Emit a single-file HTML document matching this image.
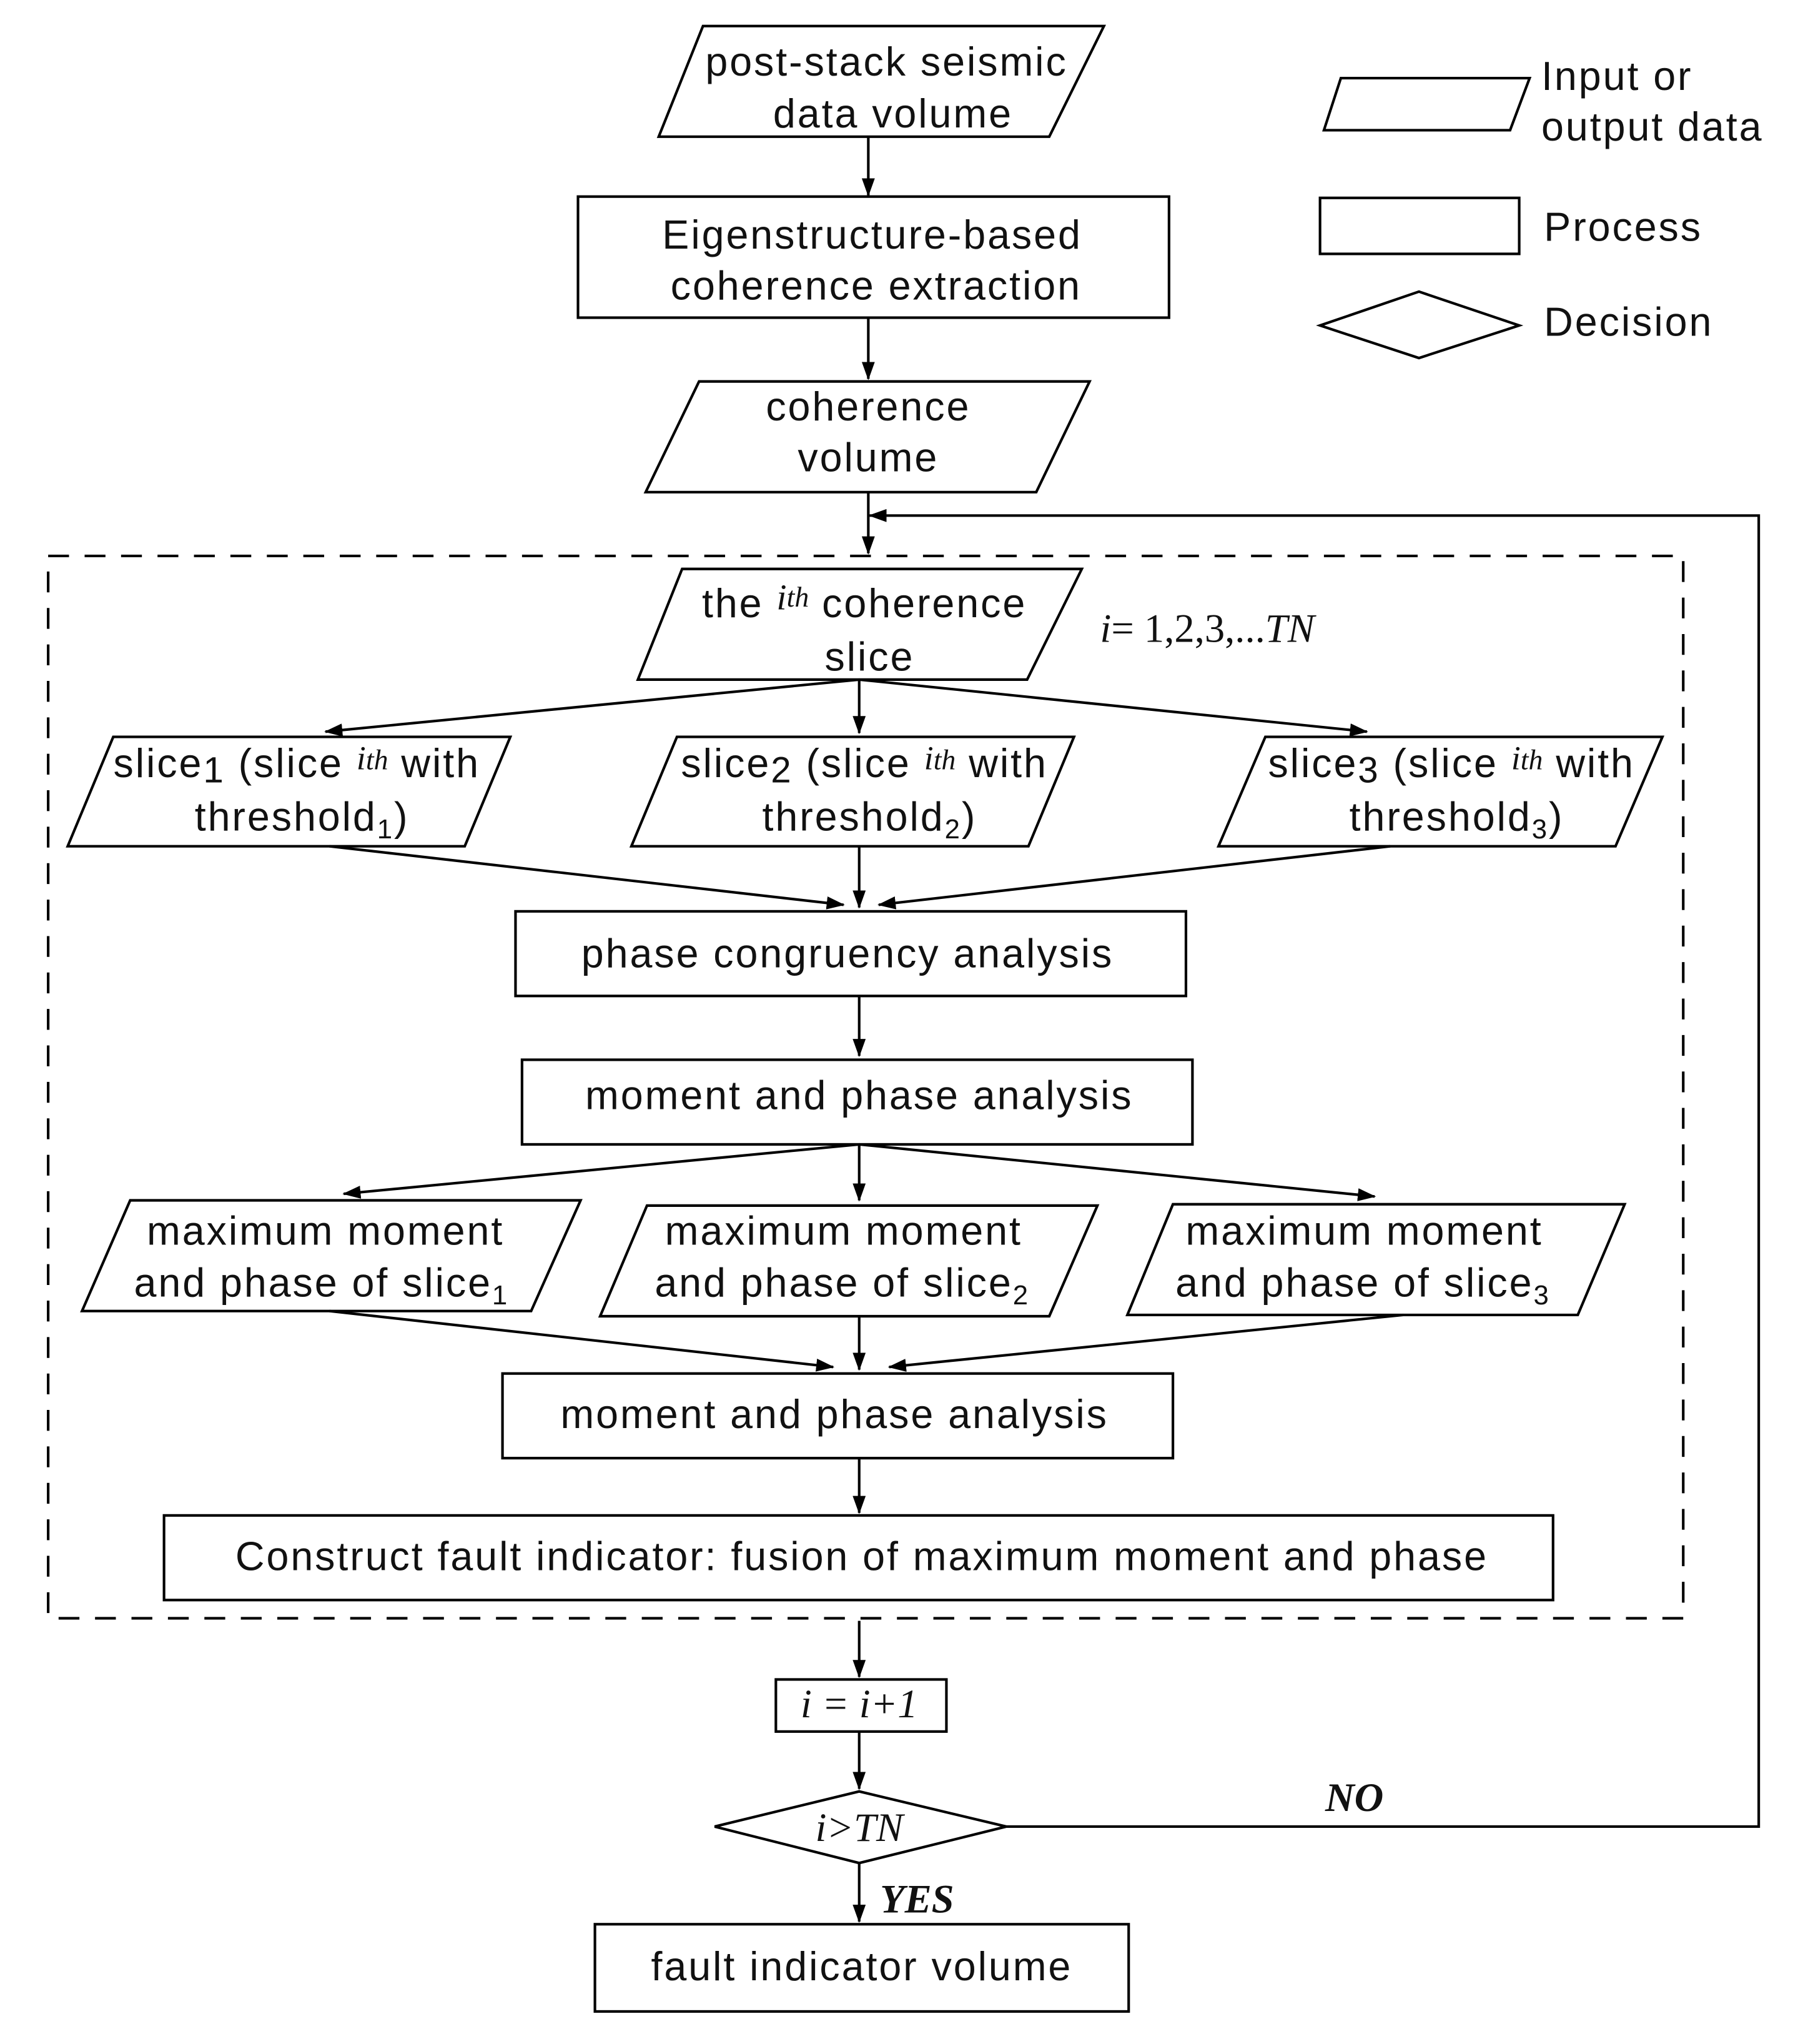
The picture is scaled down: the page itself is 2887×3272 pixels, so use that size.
<!DOCTYPE html>
<html><head><meta charset="utf-8"><style>
html,body{margin:0;padding:0;background:#fff;}
svg{display:block;}
text{font-family:"Liberation Sans",sans-serif;font-size:31px;letter-spacing:1.4px;fill:#111;}
.s{font-family:"Liberation Serif",serif;font-style:italic;letter-spacing:0;}
</style></head><body>
<svg width="2887" height="3272" viewBox="0 0 1385 1570" preserveAspectRatio="none" xmlns="http://www.w3.org/2000/svg">
<defs><marker id="a" markerWidth="14" markerHeight="10" refX="13" refY="5" orient="auto" markerUnits="userSpaceOnUse"><path d="M0,0 L14,5 L0,10 Z" fill="#000"/></marker></defs>
<g fill="none" stroke="#000" stroke-width="2">
<polygon points="540,20 848,20 806,105 506,105"/>
<rect x="444" y="151" width="454" height="93"/>
<polygon points="537,293 837,293 796,378 496,378"/>
<rect x="37" y="427" width="1256" height="816" stroke-dasharray="16,12"/>
<polygon points="524,437 831,437 789,522 490,522"/>
<polygon points="87,566 392,566 357,650 52,650"/>
<polygon points="520,566 825,566 790,650 485,650"/>
<polygon points="972,566 1277,566 1241,650 936,650"/>
<rect x="396" y="700" width="515" height="65"/>
<rect x="401" y="814" width="515" height="65"/>
<polygon points="100,922 446,922 408,1007 63,1007"/>
<polygon points="497,926 843,926 806,1011 461,1011"/>
<polygon points="901,925 1248,925 1212,1010 866,1010"/>
<rect x="386" y="1055" width="515" height="65"/>
<rect x="126" y="1164" width="1067" height="65"/>
<rect x="596" y="1290" width="131" height="40"/>
<polygon points="549,1403 660,1376 773,1403 660,1431"/>
<rect x="457" y="1478" width="410" height="67"/>
<polygon points="1030,60 1175,60 1160,100 1017,100"/>
<rect x="1014" y="152" width="153" height="43"/>
<polygon points="1014,250 1090,224 1167,250 1090,275"/>
</g>
<g stroke="#000" stroke-width="2" marker-end="url(#a)">
<line x1="667" y1="105" x2="667" y2="150"/>
<line x1="667" y1="244" x2="667" y2="291"/>
<line x1="667" y1="378" x2="667" y2="425"/>
<polyline points="773,1403 1351,1403 1351,396 668,396" fill="none"/>
<line x1="660" y1="522" x2="250" y2="562"/>
<line x1="660" y1="522" x2="660" y2="563"/>
<line x1="660" y1="522" x2="1050" y2="562"/>
<line x1="253" y1="650" x2="648" y2="695"/>
<line x1="660" y1="650" x2="660" y2="697"/>
<line x1="1068" y1="650" x2="675" y2="695"/>
<line x1="660" y1="765" x2="660" y2="811"/>
<line x1="660" y1="879" x2="264" y2="917"/>
<line x1="660" y1="879" x2="660" y2="922"/>
<line x1="660" y1="879" x2="1056" y2="919"/>
<line x1="253" y1="1007" x2="640" y2="1050"/>
<line x1="660" y1="1011" x2="660" y2="1052"/>
<line x1="1078" y1="1010" x2="683" y2="1050"/>
<line x1="660" y1="1120" x2="660" y2="1162"/>
<line x1="660" y1="1245" x2="660" y2="1288"/>
<line x1="660" y1="1330" x2="660" y2="1374"/>
<line x1="660" y1="1431" x2="660" y2="1476"/>
</g>
<g text-anchor="middle">
<text x="681" y="58">post-stack seismic</text>
<text x="686" y="98">data volume</text>
<text x="670" y="191">Eigenstructure-based</text>
<text x="673" y="230">coherence extraction</text>
<text x="667" y="323">coherence</text>
<text x="667" y="362">volume</text>
<text x="664" y="474">the <tspan class="s" font-size="28" dy="-6">i</tspan><tspan class="s" font-size="22" dy="-2">th</tspan><tspan dy="8"> coherence</tspan></text>
<text x="668" y="515">slice</text>
<text x="228" y="597">slice<tspan font-size="28" dy="4">1</tspan><tspan dy="-4"> (slice </tspan><tspan class="s" font-size="26" dy="-6">i</tspan><tspan class="s" font-size="22">th</tspan><tspan dy="6"> with</tspan></text>
<text x="232" y="638">threshold<tspan font-size="21" dy="6">1</tspan><tspan dy="-6">)</tspan></text>
<text x="664" y="597">slice<tspan font-size="28" dy="4">2</tspan><tspan dy="-4"> (slice </tspan><tspan class="s" font-size="26" dy="-6">i</tspan><tspan class="s" font-size="22">th</tspan><tspan dy="6"> with</tspan></text>
<text x="668" y="638">threshold<tspan font-size="21" dy="6">2</tspan><tspan dy="-6">)</tspan></text>
<text x="1115" y="597">slice<tspan font-size="28" dy="4">3</tspan><tspan dy="-4"> (slice </tspan><tspan class="s" font-size="26" dy="-6">i</tspan><tspan class="s" font-size="22">th</tspan><tspan dy="6"> with</tspan></text>
<text x="1119" y="638">threshold<tspan font-size="21" dy="6">3</tspan><tspan dy="-6">)</tspan></text>
<text x="651" y="743">phase  congruency analysis</text>
<text x="660" y="852">moment and phase analysis</text>
<text x="250" y="956">maximum moment</text>
<text x="247" y="996">and phase of slice<tspan font-size="21" dy="6">1</tspan></text>
<text x="648" y="956">maximum moment</text>
<text x="647" y="996">and phase of slice<tspan font-size="21" dy="6">2</tspan></text>
<text x="1048" y="956">maximum moment</text>
<text x="1047" y="996">and phase of slice<tspan font-size="21" dy="6">3</tspan></text>
<text x="641" y="1097">moment and phase analysis</text>
<text x="662" y="1206">Construct fault indicator: fusion of maximum moment and phase</text>
<text class="s" x="660" y="1319" font-size="28">i = i+1</text>
<text class="s" x="660" y="1414" font-size="28">i&gt;TN</text>
<text x="662" y="1521">fault indicator volume</text>
</g>
<text x="845" y="493" font-size="28" style="font-family:'Liberation Serif',serif;letter-spacing:0"><tspan font-style="italic">i</tspan>= 1,2,3,...<tspan font-style="italic">TN</tspan></text>
<text class="s" x="1018" y="1391" font-size="28" font-weight="bold">NO</text>
<text class="s" x="676" y="1469" font-size="28" font-weight="bold">YES</text>
<text x="1184" y="69">Input or</text>
<text x="1184" y="108">output data</text>
<text x="1186" y="185">Process</text>
<text x="1186" y="258">Decision</text>
</svg>
</body></html>
